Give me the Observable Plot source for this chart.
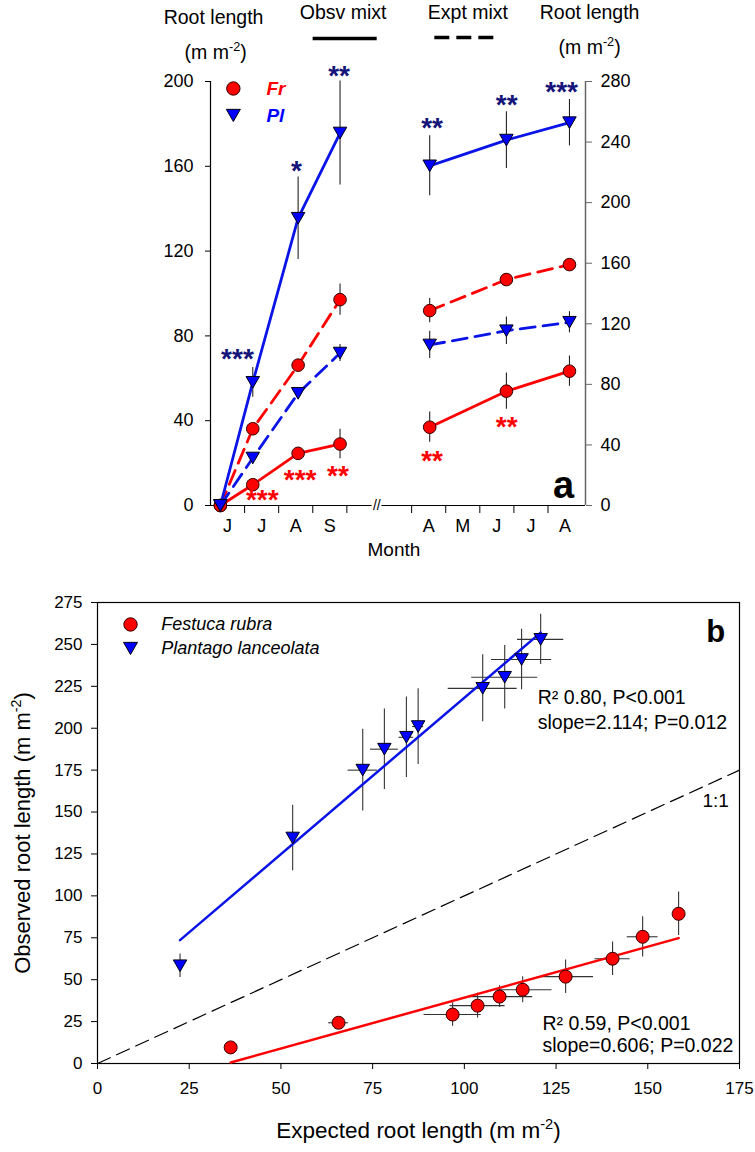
<!DOCTYPE html>
<html><head><meta charset="utf-8">
<script src="https://cdn.jsdelivr.net/npm/d3@7"></script>
<script src="https://cdn.jsdelivr.net/npm/@observablehq/plot@0.6"></script>
<style>
body{margin:0;background:#fff;font-family:"Liberation Sans",Arial,sans-serif;}
#chart svg{display:block;overflow:visible}
</style></head><body><div id="chart"></div>
<script>
// ================= Panel a data =================
// sampling dates as fractional months (6.3 ≈ 10 June)
const season1Months = [6.29, 7.24, 8.57, 9.80];   // year 1: Jun–Sep (left axis, 0–200)
const season2Months = [4.53, 6.78, 8.63];          // year 2: Apr–Aug (right axis, 0–280)

const frObs1 = [0, 9.8, 24.6, 29.0];   const frObs1Err = [0, 1.5, 2, 7];
const frExp1 = [0, 36.2, 66.2, 97.1];  const frExp1Err = [0, 2, 2, 7.4];
const plObs1 = [0, 58.1, 135.5, 175.7]; const plObs1Err = [0, 7, 19.5, 24.5];
const plExp1 = [0, 22.4, 52.9, 71.9];  const plExp1Err = [0, 1, 2, 4];

const frObs2 = [51.7, 75.5, 88.7];   const frObs2Err = [10, 12, 10];
const frExp2 = [128.7, 149.2, 159.1]; const frExp2Err = [8, 2, 2];
const plObs2 = [224.3, 241.3, 252.8]; const plObs2Err = [19.8, 18.8, 15.3];
const plExp2 = [106, 115.4, 121];     const plExp2Err = [9, 9, 7];

const leftTicks  = [0, 40, 80, 120, 160, 200];
const rightTicks = [0, 40, 80, 120, 160, 200, 240, 280];
const season1Bounds = [7, 8, 9, 10];          // month starts
const season2Bounds = [4, 5, 6, 7, 8];
const season1Labels = ["J", "J", "A", "S"];
const season2Labels = ["A", "M", "J", "J", "A"];

const starText    = ["***", "*", "**", "**", "**", "***", "***", "***", "**", "**", "**"];
const starSpecies = ["Pl", "Pl", "Pl", "Pl", "Pl", "Pl", "Fr", "Fr", "Fr", "Fr", "Fr"];
const starSeason  = [1, 1, 1, 2, 2, 2, 1, 1, 1, 2, 2];
const starMonth   = [6.79, 8.52, 9.77, 4.60, 6.79, 8.40, 7.52, 8.63, 9.74, 4.60, 6.79];
const starValue   = [72.4, 161.4, 205.9, 254.5, 269.3, 278, 6.0, 15.4, 17.5, 34.4, 57];

// ================= Panel b data =================
const plExpected = [22.5, 53.2, 72.3, 78.2, 84.2, 87.4, 105.0, 111.0, 115.6, 120.8];
const plObserved = [58.3, 134.5, 175.0, 187.5, 194.6, 201.0, 223.8, 230.4, 241.0, 253.0];
const plExpErr   = [0.5, 0.8, 4, 3.8, 2, 1.5, 9.4, 9, 8.2, 6.3];
const plObsErr   = [7, 19.5, 24.4, 24, 24, 22.6, 20, 19, 18, 15];

const frExpected = [36.3, 65.7, 96.8, 103.6, 109.6, 115.9, 127.6, 140.4, 148.6, 158.4];
const frObserved = [9.6, 24.3, 29.2, 34.5, 39.9, 44.0, 51.8, 62.5, 75.6, 89.3];
const frExpErr   = [0.5, 2.7, 7.8, 7.5, 9, 8, 7.6, 4.8, 4.2, 0.5];
const frObsErr   = [0.5, 0.5, 7, 7.4, 6.5, 7.7, 10, 10, 12, 13];

const plFit = {slope: 1.866, intercept: 31.6};
const frFit = {slope: 0.608, intercept: -21.5};
const oneToOne = [0, 175];
const bXTicks = [0, 25, 50, 75, 100, 125, 150, 175];
const bYTicks = [0, 25, 50, 75, 100, 125, 150, 175, 200, 225, 250, 275];

// ================= helpers =================
const RED = "#ff0000", BLUE = "#0000ff", NAVY = "#14147a", LBLUE = "#0a14e6";
const FONT = "'Liberation Sans', Arial, sans-serif";
const R2L = 200 / 280;                               // right-axis units -> left-axis units
const pos = (m, season) => season === 1 ? m - 6 : m + 1.9;   // broken month axis
const triDown = {
  draw(ctx, size) {
    const y = Math.sqrt(size / (3 * Math.sqrt(3)));
    ctx.moveTo(0, 1.5 * y);
    ctx.lineTo(-Math.sqrt(3) * y, -1.5 * y);
    ctx.lineTo(Math.sqrt(3) * y, -1.5 * y);
    ctx.closePath();
  }
};

const rowsA = [];
function add(months, vals, errs, sp, kind, season) {
  months.forEach((m, i) => {
    const k = season === 1 ? 1 : R2L;
    rowsA.push({v: pos(m, season), y: vals[i] * k, e: errs[i] * k, sp, kind, season});
  });
}
add(season1Months, frObs1, frObs1Err, "Fr", "obs", 1);
add(season1Months, frExp1, frExp1Err, "Fr", "exp", 1);
add(season1Months, plObs1, plObs1Err, "Pl", "obs", 1);
add(season1Months, plExp1, plExp1Err, "Pl", "exp", 1);
add(season2Months, frObs2, frObs2Err, "Fr", "obs", 2);
add(season2Months, frExp2, frExp2Err, "Fr", "exp", 2);
add(season2Months, plObs2, plObs2Err, "Pl", "obs", 2);
add(season2Months, plExp2, plExp2Err, "Pl", "exp", 2);
const sel = (sp, kind) => rowsA.filter(d => d.sp === sp && (!kind || d.kind === kind));

const stars = starText.map((t, i) => ({
  t, sp: starSpecies[i],
  v: pos(starMonth[i], starSeason[i]),
  y: starValue[i] * (starSeason[i] === 1 ? 1 : R2L)
}));

const boundPos = [...season1Bounds.map(m => pos(m, 1)), ...season2Bounds.map(m => pos(m, 2))];
const labelPos = [...season1Bounds.map(m => pos(m - 0.5, 1)), ...season2Bounds.map(m => pos(m + 0.5, 2))];
const labelMap = new Map(labelPos.map((p, i) => [p, [...season1Labels, ...season2Labels][i]]));

const W = 755;
const HF = 19.5; // header font size
const plotA = Plot.plot({
  width: W, height: 575,
  marginLeft: 210, marginRight: 170, marginTop: 81, marginBottom: 70,
  x: {domain: [0, 11], axis: null},
  y: {domain: [0, 200], axis: null},
  style: {fontFamily: FONT, fontSize: "18px", color: "black", background: "white", overflow: "visible"},
  marks: [
    Plot.axisY({anchor: "left", ticks: leftTicks, tickSize: 5, tickPadding: 12, fontSize: 18, label: null}),
    Plot.axisY({anchor: "right", ticks: rightTicks.map(t => t * R2L), tickFormat: d => String(Math.round(d / R2L)),
      tickSize: 6, tickPadding: 9, fontSize: 18, label: null, stroke: "#666", fill: "black"}),
    Plot.axisX({anchor: "bottom", ticks: boundPos, tickSize: 8, tickFormat: () => "", label: null}),
    Plot.axisX({anchor: "bottom", ticks: labelPos, tickSize: 0, tickPadding: 14, fontSize: 18,
      tickFormat: d => labelMap.get(d), label: null}),
    Plot.ruleX([0], {stroke: "black", strokeWidth: 1.2}),
    Plot.ruleX([11], {stroke: "#666", strokeWidth: 1.5}),
    Plot.ruleY([0], {x1: 0, x2: 4.74, stroke: "black", strokeWidth: 1.2}),
    Plot.ruleY([0], {x1: 5.03, x2: 11, stroke: "black", strokeWidth: 1.2}),
    Plot.text(["//"], {x: 4.88, y: 0, fontSize: 14, fill: "black"}),
    // error bars
    Plot.ruleX(rowsA.filter(d => d.e > 0), {x: "v", y1: d => d.y - d.e, y2: d => d.y + d.e, stroke: "#222", strokeWidth: 1.1}),
    // lines
    Plot.line(sel("Fr", "obs"), {x: "v", y: "y", z: "season", stroke: RED, strokeWidth: 2.8}),
    Plot.line(sel("Fr", "exp"), {x: "v", y: "y", z: "season", stroke: RED, strokeWidth: 2.8, strokeDasharray: "15,8"}),
    Plot.line(sel("Pl", "obs"), {x: "v", y: "y", z: "season", stroke: LBLUE, strokeWidth: 2.8}),
    Plot.line(sel("Pl", "exp"), {x: "v", y: "y", z: "season", stroke: LBLUE, strokeWidth: 2.8, strokeDasharray: "15,8"}),
    // markers
    Plot.dot(sel("Fr"), {x: "v", y: "y", r: 6.3, fill: RED, stroke: "#300", strokeWidth: 1}),
    Plot.dot(sel("Pl"), {x: "v", y: "y", r: 5, symbol: triDown, fill: BLUE, stroke: "#001", strokeWidth: 1}),
    // significance stars
    Plot.text(stars, {x: "v", y: "y", text: "t", fill: d => d.sp === "Fr" ? RED : NAVY, fontSize: 28, fontWeight: "bold", dy: 7.5}),
    // legend
    Plot.dot([0], {x: 0.67, y: 196.7, r: 6.7, fill: RED, stroke: "#300", strokeWidth: 1}),
    Plot.dot([0], {x: 0.67, y: 184, r: 5.2, symbol: triDown, fill: BLUE, stroke: "#001", strokeWidth: 1}),
    Plot.text(["Fr"], {x: 1.64, y: 196.7, textAnchor: "start", fill: RED, fontSize: 19, fontWeight: "bold", fontStyle: "italic"}),
    Plot.text(["Pl"], {x: 1.64, y: 184, textAnchor: "start", fill: BLUE, fontSize: 19, fontWeight: "bold", fontStyle: "italic"}),
    // headers
    Plot.text(["Root length"], {x: 0.09, y: 230.2, fontSize: HF, fill: "black"}),
    Plot.text(["(m m^{-2})"], {x: 0.15, y: 213.7, fontSize: HF, fill: "black"}),
    Plot.text(["Obsv mixt"], {x: 3.89, y: 232.5, fontSize: HF, fill: "black"}),
    Plot.ruleY([0], {x1: 3.01, x2: 4.89, y: 220.3, stroke: "black", strokeWidth: 3.5}),
    Plot.text(["Expt mixt"], {x: 7.55, y: 232.5, fontSize: HF, fill: "black"}),
    Plot.ruleY([0], {x1: 6.58, x2: 8.43, y: 220.8, stroke: "black", strokeWidth: 3.5, strokeDasharray: "15,7"}),
    Plot.text(["Root length"], {x: 11.12, y: 232.5, fontSize: HF, fill: "black"}),
    Plot.text(["(m m^{-2})"], {x: 11.12, y: 216, fontSize: HF, fill: "black"}),
    Plot.text(["a"], {x: 10.36, y: 9.4, fontSize: 38, fontWeight: "bold", fill: "black"}),
    Plot.text(["Month"], {x: 5.38, y: -20.8, fontSize: 19, fill: "black"})
  ]
});

// ================= Panel b =================
const rowsB = [
  ...plExpected.map((x, i) => ({sp: "Pl", x, y: plObserved[i], xe: plExpErr[i], ye: plObsErr[i]})),
  ...frExpected.map((x, i) => ({sp: "Fr", x, y: frObserved[i], xe: frExpErr[i], ye: frObsErr[i]}))
];
const fitLine = (xs, f) => d3.extent(xs).map(x => ({x, y: f.intercept + f.slope * x}));

const plotB = Plot.plot({
  width: W, height: 577,
  marginLeft: 97, marginRight: 16, marginTop: 27, marginBottom: 89,
  x: {domain: [0, 175], axis: null},
  y: {domain: [0, 275], axis: null},
  style: {fontFamily: FONT, fontSize: "17px", color: "black", background: "white", overflow: "visible"},
  marks: [
    Plot.frame({stroke: "black", strokeWidth: 1.2}),
    Plot.axisX({anchor: "bottom", ticks: bXTicks, tickSize: 6, tickPadding: 12, fontSize: 17, label: null}),
    Plot.axisY({anchor: "left", ticks: bYTicks, tickSize: 6, tickPadding: 9, fontSize: 17, label: null}),
    Plot.line(oneToOne, {x: d => d, y: d => d, stroke: "black", strokeWidth: 1.2, strokeDasharray: "14,7"}),
    Plot.ruleX(rowsB, {x: "x", y1: d => d.y - d.ye, y2: d => d.y + d.ye, stroke: "#333", strokeWidth: 1.1}),
    Plot.ruleY(rowsB, {y: "y", x1: d => d.x - d.xe, x2: d => d.x + d.xe, stroke: "#333", strokeWidth: 1.1}),
    Plot.line(fitLine(plExpected, plFit), {x: "x", y: "y", stroke: LBLUE, strokeWidth: 2.5}),
    Plot.line(fitLine(frExpected, frFit), {x: "x", y: "y", stroke: RED, strokeWidth: 2.5}),
    Plot.dot(rowsB.filter(d => d.sp === "Fr"), {x: "x", y: "y", r: 6.5, fill: RED, stroke: "#300", strokeWidth: 1}),
    Plot.dot(rowsB.filter(d => d.sp === "Pl"), {x: "x", y: "y", r: 5, symbol: triDown, fill: BLUE, stroke: "#001", strokeWidth: 1}),
    // legend
    Plot.dot([0], {x: 9.0, y: 261.9, r: 6.7, fill: RED, stroke: "#300", strokeWidth: 1}),
    Plot.dot([0], {x: 9.0, y: 247.6, r: 5.2, symbol: triDown, fill: BLUE, stroke: "#001", strokeWidth: 1}),
    Plot.text(["Festuca rubra"], {x: 17.4, y: 261.9, textAnchor: "start", fontSize: 18, fontStyle: "italic", fill: "black"}),
    Plot.text(["Plantago lanceolata"], {x: 17.4, y: 247.6, textAnchor: "start", fontSize: 18, fontStyle: "italic", fill: "black"}),
    // annotations
    Plot.text(["b"], {x: 168.5, y: 257.1, fontSize: 31, fontWeight: "bold", fill: "black"}),
    Plot.text(["R\u00b2 0.80, P<0.001"], {x: 120, y: 217.9, textAnchor: "start", fontSize: 19.5, fill: "black"}),
    Plot.text(["slope=2.114; P=0.012"], {x: 120, y: 203, textAnchor: "start", fontSize: 19.5, fill: "black"}),
    Plot.text(["R\u00b2 0.59, P<0.001"], {x: 121.3, y: 23.8, textAnchor: "start", fontSize: 19.5, fill: "black"}),
    Plot.text(["slope=0.606; P=0.022"], {x: 121.3, y: 10.7, textAnchor: "start", fontSize: 19.5, fill: "black"}),
    Plot.text(["1:1"], {x: 168.5, y: 156.5, fontSize: 19, fill: "black"}),
    Plot.text(["Observed root length (m m^{-2})"], {frameAnchor: "left", textAnchor: "middle", dx: -75, rotate: -90, fontSize: 22, fill: "black"}),
    Plot.text(["Expected root length (m m^{-2})"], {frameAnchor: "bottom", textAnchor: "middle", dy: 74, fontSize: 22.5, fill: "black"})
  ]
});

function supify(svg) {
  d3.select(svg).selectAll("text").each(function () {
    const t = this.textContent;
    const m = t.match(/^(.*)\^\{(.*?)\}(.*)$/);
    if (!m) return;
    const s = d3.select(this);
    s.selectAll("*").remove();
    this.textContent = "";
    s.append("tspan").text(m[1]);
    s.append("tspan").attr("font-size", "0.65em").attr("dy", "-0.6em").text(m[2]);
    s.append("tspan").attr("dy", "0.39em").text(m[3]);
  });
}
supify(plotA); supify(plotB);
const root = document.getElementById("chart");
root.append(plotA, plotB);
</script></body></html>
